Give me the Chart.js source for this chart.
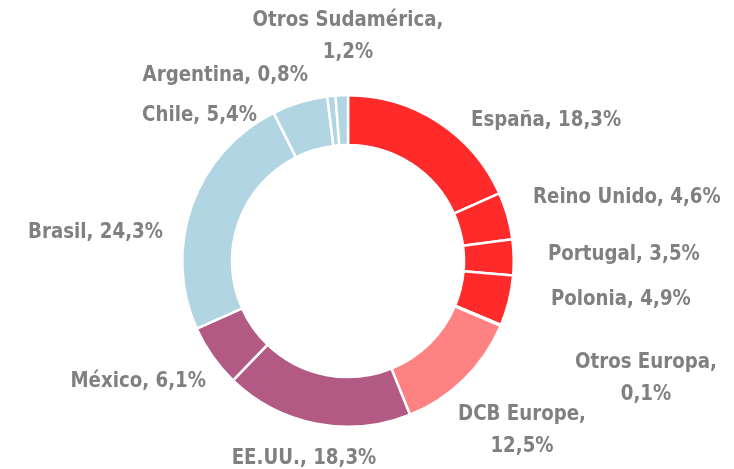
<!DOCTYPE html>
<html lang="es">
<head>
    <meta charset="UTF-8">
    <title>Distribución por geografía</title>
    <script src="https://cdn.jsdelivr.net/npm/chart.js"></script>
    <style>
        html, body { margin: 0; padding: 0; background: #fff; }
        #wrap { width: 734px; height: 469px; }
    </style>
</head>
<body>
    <div id="wrap"><canvas id="geoChart"></canvas></div>

    <script>
        const regions = ['España', 'Reino Unido', 'Portugal', 'Polonia', 'Otros Europa', 'DCB Europe',
                         'EE.UU.', 'México', 'Brasil', 'Chile', 'Argentina', 'Otros Sudamérica'];
        const shares = [18.3, 4.6, 3.5, 4.9, 0.1, 12.5, 18.3, 6.1, 24.3, 5.4, 0.8, 1.2];
        const sliceColors = ['#ff2a2a', '#ff2a2a', '#ff2a2a', '#ff2a2a', '#ff5555', '#ff8282',
                             '#b35a84', '#b35a84', '#b1d5e3', '#b1d5e3', '#b1d5e3', '#b1d5e3'];

        // where each label sits (text lines, x, y of first line, alignment)
        const labelLayout = [
            { lines: 1, x: 471, y: 120, align: 'left' },
            { lines: 1, x: 533, y: 197, align: 'left' },
            { lines: 1, x: 548, y: 254, align: 'left' },
            { lines: 1, x: 551, y: 299, align: 'left' },
            { lines: 2, x: 646, y: 362, align: 'center' },
            { lines: 2, x: 522, y: 414, align: 'center' },
            { lines: 1, x: 304, y: 458, align: 'center' },
            { lines: 1, x: 206, y: 381, align: 'right' },
            { lines: 1, x: 163, y: 232, align: 'right' },
            { lines: 1, x: 257, y: 115, align: 'right' },
            { lines: 1, x: 308, y: 75, align: 'right' },
            { lines: 2, x: 348, y: 20, align: 'center' }
        ];

        const fmt = v => v.toFixed(1).replace('.', ',') + '%';

        // text in the original is a narrow face; squeeze DejaVu a bit
        function narrowText(c, txt, x, y) {
            c.save();
            c.translate(x, y);
            c.scale(0.92, 1);
            c.fillText(txt, 0, 0);
            c.restore();
        }

        const labelPlugin = {
            id: 'sliceLabels',
            afterDraw(chart) {
                const c = chart.ctx;
                c.save();
                c.font = 'bold 22px "DejaVu Sans Condensed", "DejaVu Sans", sans-serif';
                c.fillStyle = '#808080';
                c.textBaseline = 'middle';
                regions.forEach((name, i) => {
                    const pos = labelLayout[i];
                    c.textAlign = pos.align;
                    if (pos.lines === 2) {
                        narrowText(c, name + ',', pos.x, pos.y);
                        narrowText(c, fmt(shares[i]), pos.x, pos.y + 32);
                    } else {
                        narrowText(c, name + ', ' + fmt(shares[i]), pos.x, pos.y);
                    }
                });
                c.restore();
            }
        };

        new Chart(document.getElementById('geoChart'), {
            type: 'doughnut',
            data: {
                labels: regions,
                datasets: [{
                    data: shares,
                    backgroundColor: sliceColors,
                    borderColor: '#ffffff',
                    borderWidth: 2.5
                }]
            },
            options: {
                responsive: true,
                maintainAspectRatio: false,
                animation: false,
                cutout: '70%',
                layout: { padding: { left: 181, right: 219, top: 94, bottom: 41 } },
                plugins: {
                    legend: { display: false },
                    tooltip: { enabled: false }
                }
            },
            plugins: [labelPlugin]
        });
    </script>
</body>
</html>
